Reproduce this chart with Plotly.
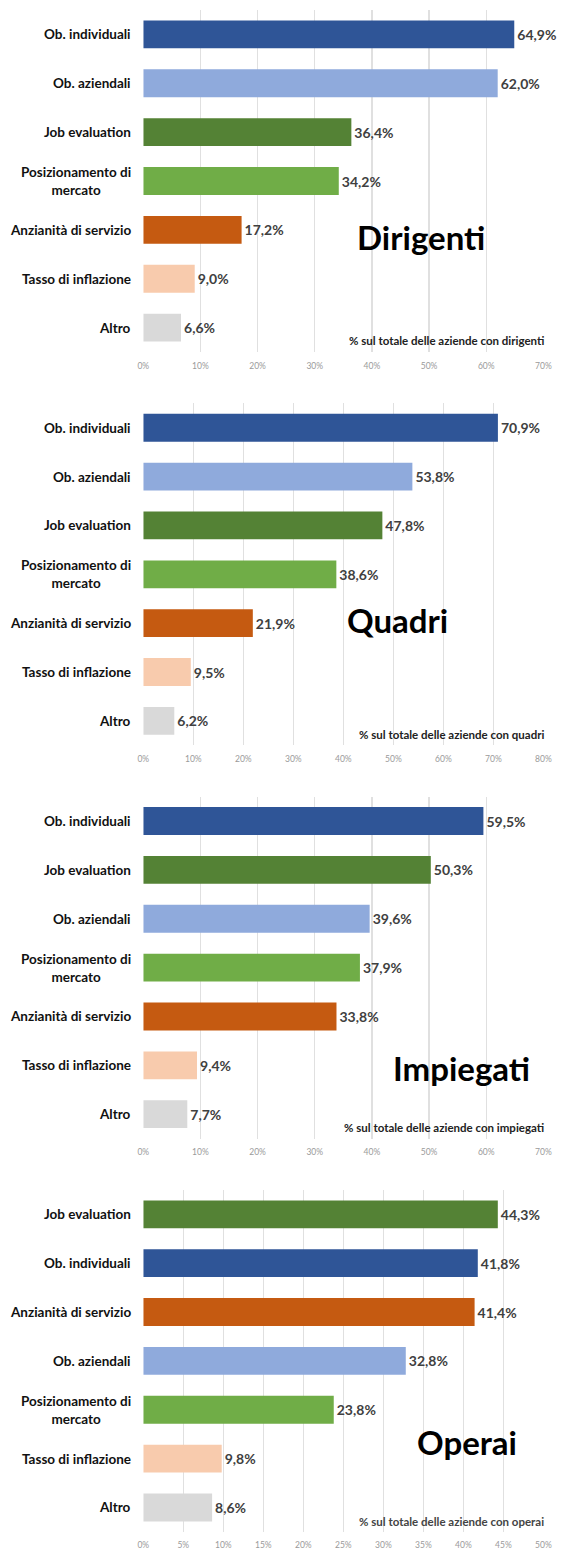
import plotly.graph_objects as go

# ---- data ----
titles = ["Dirigenti", "Quadri", "Impiegati", "Operai"]
notes = [
    "% sul totale delle aziende con dirigenti",
    "% sul totale delle aziende con quadri",
    "% sul totale delle aziende con impiegati",
    "% sul totale delle aziende con operai",
]
cats_dirigenti = ["Ob. individuali", "Ob. aziendali", "Job evaluation", "Posizionamento di mercato",
                  "Anzianità di servizio", "Tasso di inflazione", "Altro"]
vals_dirigenti = [64.9, 62.0, 36.4, 34.2, 17.2, 9.0, 6.6]

cats_quadri = ["Ob. individuali", "Ob. aziendali", "Job evaluation", "Posizionamento di mercato",
               "Anzianità di servizio", "Tasso di inflazione", "Altro"]
vals_quadri = [70.9, 53.8, 47.8, 38.6, 21.9, 9.5, 6.2]

cats_impiegati = ["Ob. individuali", "Job evaluation", "Ob. aziendali", "Posizionamento di mercato",
                  "Anzianità di servizio", "Tasso di inflazione", "Altro"]
vals_impiegati = [59.5, 50.3, 39.6, 37.9, 33.8, 9.4, 7.7]

cats_operai = ["Job evaluation", "Ob. individuali", "Anzianità di servizio", "Ob. aziendali",
               "Posizionamento di mercato", "Tasso di inflazione", "Altro"]
vals_operai = [44.3, 41.8, 41.4, 32.8, 23.8, 9.8, 8.6]

axis_max = [70, 80, 70, 50]
axis_step = [10, 10, 10, 5]

label_text = {
    "Ob. individuali": "Ob. individuali",
    "Ob. aziendali": "Ob. aziendali",
    "Job evaluation": "Job evaluation",
    "Posizionamento di mercato": "Posizionamento di<br>mercato",
    "Anzianità di servizio": "Anzianità di servizio",
    "Tasso di inflazione": "Tasso di inflazione",
    "Altro": "Altro",
}
colors = {
    "Ob. individuali": "#2F5597",
    "Ob. aziendali": "#8FAADC",
    "Job evaluation": "#548235",
    "Posizionamento di mercato": "#70AD47",
    "Anzianità di servizio": "#C55A11",
    "Tasso di inflazione": "#F8CBAD",
    "Altro": "#D9D9D9",
}

panels = [
    (cats_dirigenti, vals_dirigenti),
    (cats_quadri, vals_quadri),
    (cats_impiegati, vals_impiegati),
    (cats_operai, vals_operai),
]

# ---- layout geometry (page pixels) ----
W, H = 568, 1550
x0_px, x1_px = 141, 552
top0, pstep, ph = 10, 393.3, 342
title_pos = [(426, 237), (402, 620), (468, 1068), (473, 1442)]
note_right = 555
note_y = [340, 734, 1127, 1521]
label_right = 130
FONT = "Lato"

fig = go.Figure()
annotations = []
layout = dict(
    width=W, height=H,
    margin=dict(l=0, r=0, t=0, b=0),
    paper_bgcolor="white", plot_bgcolor="white",
    showlegend=False,
    font=dict(family=FONT),
    bargap=0.43,
)

for i, (cats, vals) in enumerate(panels):
    sfx = "" if i == 0 else str(i + 1)
    xa, ya = "x" + sfx, "y" + sfx
    top = top0 + pstep * i
    bot = top + ph
    fig.add_trace(go.Bar(
        x=vals, y=cats, orientation="h",
        xaxis=xa, yaxis=ya,
        marker=dict(color=[colors[c] for c in cats], line=dict(width=0)),
        text=[f"{v:.1f}".replace(".", ",") + "%" for v in vals],
        textposition="outside",
        textfont=dict(family=FONT, size=14, color="#404040", weight="bold"),
        cliponaxis=False,
        hoverinfo="skip",
    ))
    ticks = list(range(0, axis_max[i] + 1, axis_step[i]))
    layout["xaxis" + sfx] = dict(
        domain=[x0_px / W, x1_px / W],
        anchor=ya,
        range=[0, axis_max[i]],
        tickvals=ticks,
        ticktext=[f"{t}%" for t in ticks],
        tickfont=dict(family=FONT, size=8.5, color="#9a9a9a"),
        showgrid=True, gridcolor="#e0e0e0", gridwidth=1.2,
        zeroline=False, showline=False,
        ticks="", ticklabelstandoff=7,
        fixedrange=True,
    )
    layout["yaxis" + sfx] = dict(
        domain=[1 - bot / H, 1 - top / H],
        anchor=xa,
        categoryorder="array", categoryarray=cats,
        autorange="reversed",
        showticklabels=False, showgrid=False, zeroline=False, showline=False,
        fixedrange=True,
    )
    for c in cats:
        annotations.append(dict(
            xref="paper", yref=ya, x=label_right / W, y=c,
            xanchor="right", yanchor="middle", align="center",
            text=label_text[c], showarrow=False,
            font=dict(family=FONT, size=13.5, color="#111111", weight="bold"),
        ))
    tx, ty = title_pos[i]
    annotations.append(dict(
        xref="paper", yref="paper", x=tx / W, y=1 - ty / H,
        xanchor="center", yanchor="middle",
        text=titles[i], showarrow=False,
        font=dict(family=FONT, size=33, color="#000000", weight="bold"),
    ))
    annotations.append(dict(
        xref="paper", yref="paper", x=note_right / W, y=1 - note_y[i] / H,
        xanchor="right", yanchor="middle",
        text=notes[i], showarrow=False,
        font=dict(family=FONT, size=11.5, color="#222222" if i < 3 else "#444444", weight="bold"),
    ))

layout["annotations"] = annotations
fig.update_layout(**layout)
fig.write_html(
    "out.html",
    config={"displayModeBar": False, "staticPlot": True},
    post_script="document.body.style.margin='0';document.body.style.overflow='hidden';",
)
